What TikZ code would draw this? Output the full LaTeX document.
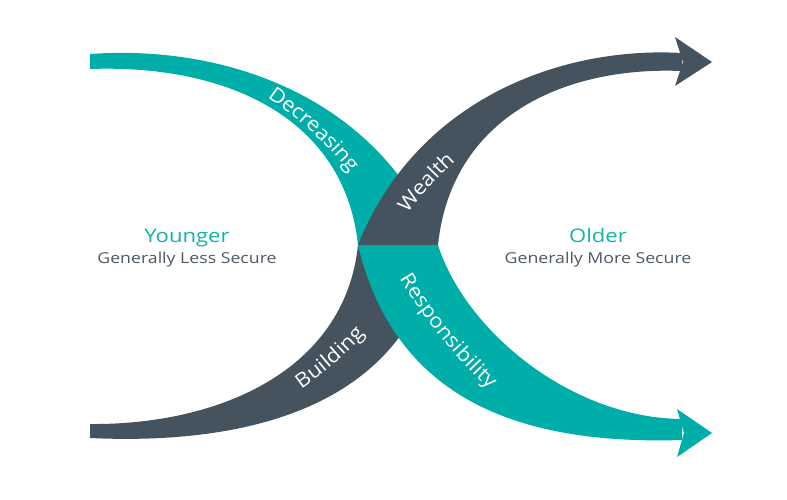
\documentclass[tikz,border=0pt]{standalone}
\usepackage{fontspec}
\setmainfont{Open Sans}
\newfontfamily\sidefamily[FakeStretch=1.18]{Open Sans}
\newfontfamily\bandfamily[FakeStretch=1.1]{Open Sans}
\newcommand\bandlabelfont{\bandfamily\fontsize{20}{24}\selectfont}
\usetikzlibrary{decorations.text}
\definecolor{bandteal}{RGB}{0,174,169}
\definecolor{bandslate}{RGB}{69,83,94}
\definecolor{subgray}{RGB}{78,88,98}
\definecolor{headteal}{RGB}{18,178,172}
\tikzset{
  headlabel/.style={text=headteal, font=\sidefamily\fontsize{18.7}{22}\selectfont, inner sep=0pt, anchor=base},
  sublabel/.style={text=subgray, font=\sidefamily\fontsize{15}{18}\selectfont, inner sep=0pt, anchor=base},
  bandtext/.style={decorate, decoration={text along path, text align=center,
      text color=white, raise=-5.5pt, text={|\bandlabelfont|#1}}}
}
\begin{document}
\begin{tikzpicture}[x=1pt,y=-1pt]
\useasboundingbox (0,0) rectangle (787,499);
% upper teal band (Decreasing)
\fill[bandteal] (90,54) .. controls (230,44) and (380,100) .. (438,245)
  -- (358,245) .. controls (345,120) and (230,64) .. (90,69) -- cycle;
% upper slate band (Wealth)
\fill[bandslate] (358,245) .. controls (416,100) and (560,46) .. (682,53)
  -- (682,71) .. controls (560,66) and (451,120) .. (438,245) -- cycle;
\fill[bandslate] (675,37) -- (712,62) -- (675,86) -- (683,62) -- cycle;
% lower slate band (Building)
\fill[bandslate] (90,424) .. controls (220,425) and (345,370) .. (358,245)
  -- (438,245) .. controls (410,400) and (260,446) .. (90,438) -- cycle;
% lower teal band (Responsibility)
\fill[bandteal] (358,245) .. controls (395,400) and (520,445) .. (682,440)
  -- (682,419) .. controls (570,418) and (465,330) .. (438,245) -- cycle;
\fill[bandteal] (677,409) -- (712,433) -- (677,457) -- (684,433) -- cycle;
% band labels (text along the bands)
\path[bandtext=Decreasing] (260.2,86.1) .. controls (298.8,111.2) and (335.1,141.7) .. (361.5,179.4);
\path[bandtext=Wealth] (397.7,217.7) .. controls (414.9,193.1) and (436.1,171.1) .. (458.4,151);
\path[bandtext=Building] (286.6,392.5) .. controls (317.6,372.3) and (346.1,347.8) .. (369.9,319.5);
\path[bandtext=Responsibility] (399.3,267.7) .. controls (425.8,313.6) and (460.7,356.5) .. (500.1,392);
% side texts
\node[headlabel] (young) at (187,242) {Younger};
\node[sublabel] (lesssec) at (187,263) {Generally Less Secure};
\node[headlabel] (old) at (598,242) {Older};
\node[sublabel] (moresec) at (598,263) {Generally More Secure};
\end{tikzpicture}
\end{document}
